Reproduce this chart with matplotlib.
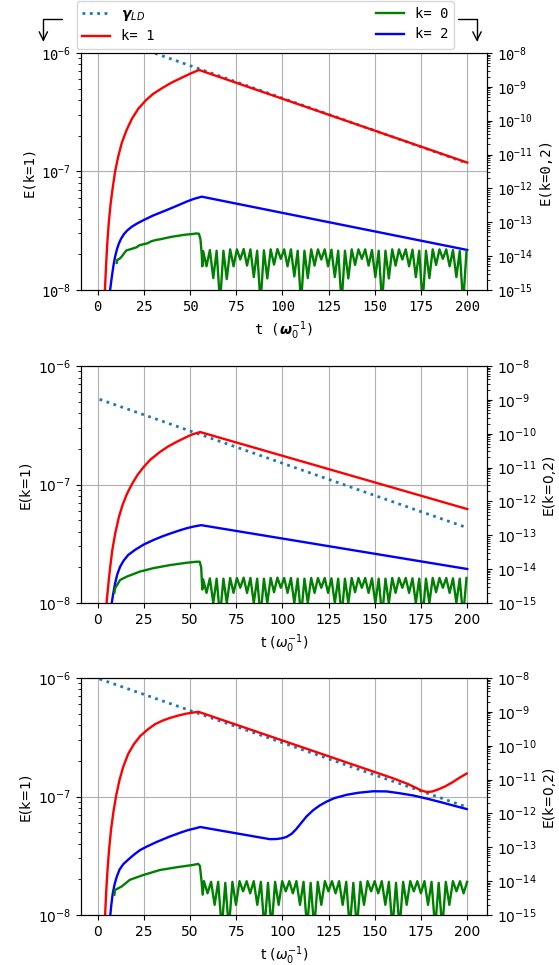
import numpy as np
import matplotlib.pyplot as plt
from matplotlib.ticker import LogLocator

MONO = 'DejaVu Sans Mono'

# ---- panel 1 ------------------------------------------------------------
# values are stored as log10(E)
g1_t = [1.0, 200.0]
g1_v = [-5.838, -6.930]

r1_t = [3.5, 3.9, 4.5, 5.2, 6.0, 7.0, 8.0, 9.4, 11.0, 13.0, 15.5, 18.5, 22.0, 26.0,
        30.0, 35.0, 40.0, 45.0, 50.0, 54.8, 200.0]
r1_v = [-8.30, -8.00, -7.80, -7.60, -7.43, -7.27, -7.15, -7.00, -6.88, -6.76, -6.655,
        -6.555, -6.47, -6.40, -6.345, -6.295, -6.25, -6.212, -6.175, -6.143, -6.925]

b1_t = [6.2, 6.7, 7.3, 7.9, 8.6, 9.4, 10.5, 11.5, 12.7, 14.2, 16.0, 18.5, 21.5,
        24.7, 30.0, 37.3, 43.0, 48.1, 52.0, 56.3, 200.0]
b1_v = [-15.30, -15.00, -14.75, -14.51, -14.25, -14.02, -13.78, -13.62, -13.48,
        -13.35, -13.24, -13.13, -13.03, -12.94, -12.80, -12.64, -12.51, -12.39,
        -12.31, -12.244, -13.818]

gr1_t = [10.3, 10.6, 12.0, 12.9, 14.5, 15.6, 17.5, 19.2, 21.0, 22.5, 24.6, 27.0,
         29.0, 31.8, 34.0, 36.5, 39.0, 41.0, 43.5, 46.2, 48.5, 51.0, 53.4, 54.8,
         55.6, 56.3, 56.6]
gr1_v = [-14.20, -14.11, -14.07, -14.02, -13.90, -13.83, -13.80, -13.77, -13.74,
         -13.68, -13.65, -13.62, -13.56, -13.52, -13.50, -13.47, -13.44, -13.42,
         -13.40, -13.375, -13.36, -13.35, -13.33, -13.34, -13.50, -13.95, -14.30]
osc1 = [-13.85, -14.30, -13.82, -14.65, -13.84, -15.40, -13.84, -14.68, -13.80, -14.30,
        -13.80, -14.10, -13.79, -14.28, -13.80, -14.62, -13.84, -15.40, -13.83, -14.66,
        -13.80, -14.25, -13.79, -14.08, -13.80, -14.30, -13.80, -14.60, -13.84, -15.40,
        -13.84, -14.65, -13.80, -14.28, -13.80, -14.10, -13.80, -14.30, -13.81, -14.62,
        -13.84, -15.40, -13.84, -14.66, -13.80, -14.26, -13.80, -14.08, -13.80, -14.28,
        -13.82, -14.62, -13.84, -15.40, -13.84, -14.66, -13.80, -14.28, -13.80, -14.10,
        -13.80, -14.30, -13.81, -14.62, -13.84, -15.40, -13.84, -14.65, -13.80, -14.26,
        -13.80, -14.08, -13.80, -14.30, -13.82, -14.62, -13.85, -15.40, -13.86]
osc1_span = (57.06, 199.6)

# ---- panel 2 ------------------------------------------------------------
g2_t = [1.0, 200.0]
g2_v = [-6.281, -7.365]

r2_t = [4.4, 4.9, 5.4, 5.8, 6.8, 7.9, 9.5, 11.5, 13.5, 15.8, 18.4, 21.5, 24.7, 28.5,
        33.7, 38.0, 42.7, 47.0, 51.0, 55.4, 200.0]
r2_v = [-8.30, -7.975, -7.90, -7.834, -7.69, -7.553, -7.41, -7.272, -7.17, -7.08,
        -7.00, -6.92, -6.855, -6.79, -6.725, -6.68, -6.64, -6.607, -6.578, -6.557,
        -7.207]

b2_t = [7.0, 7.6, 8.3, 9.4, 10.6, 12.1, 14.0, 16.5, 20.2, 25.0, 30.1, 35.0, 39.1,
        44.0, 48.2, 52.0, 56.0, 200.0]
b2_v = [-15.30, -15.00, -14.75, -14.42, -14.15, -13.93, -13.75, -13.58, -13.43,
        -13.27, -13.14, -13.03, -12.95, -12.86, -12.79, -12.74, -12.70, -13.995]

gr2_t = [9.0, 9.4, 12.1, 15.7, 22.9, 30.1, 39.1, 48.2, 53.6, 55.2, 56.0, 56.6]
gr2_v = [-14.70, -14.565, -14.32, -14.22, -14.07, -13.97, -13.88, -13.81, -13.78,
         -13.78, -13.95, -14.60]
osc2 = [-14.30, -14.70, -14.27, -15.00, -14.28, -15.40, -14.28, -15.00, -14.26, -14.70,
        -14.26, -14.55, -14.25, -14.70, -14.26, -15.00, -14.28, -15.40, -14.28, -15.00,
        -14.26, -14.68, -14.25, -14.55, -14.26, -14.70, -14.26, -15.00, -14.28, -15.40,
        -14.28, -15.00, -14.26, -14.70, -14.26, -14.55, -14.26, -14.70, -14.27, -15.00,
        -14.28, -15.40, -14.28, -15.00, -14.26, -14.68, -14.26, -14.55, -14.26, -14.70,
        -14.27, -15.00, -14.28, -15.40, -14.28, -15.00, -14.26, -14.70, -14.26, -14.55,
        -14.26, -14.70, -14.27, -15.00, -14.28, -15.40, -14.28, -15.00, -14.26, -14.68,
        -14.26, -14.55, -14.26, -14.70, -14.27, -15.00, -14.28, -15.40, -14.26]
osc2_span = (57.06, 199.6)

# ---- panel 3 ------------------------------------------------------------
g3_t = [1.0, 200.0]
g3_v = [-6.008, -7.090]

r3_t = [3.5, 4.0, 4.6, 5.3, 6.2, 7.2, 8.5, 10.0, 11.8, 13.8, 16.5, 19.5, 23.0, 27.0,
        31.0, 35.0, 39.1, 44.0, 48.2, 54.5, 160.0, 168.0, 172.0, 175.0, 178.0,
        181.0, 184.0, 188.0, 192.0, 196.0, 199.7]
r3_v = [-8.30, -8.00, -7.80, -7.62, -7.44, -7.28, -7.13, -6.99, -6.86, -6.75, -6.64,
        -6.56, -6.49, -6.435, -6.39, -6.36, -6.337, -6.315, -6.30, -6.285, -6.847,
        -6.895, -6.925, -6.948, -6.962, -6.958, -6.942, -6.915, -6.88, -6.84,
        -6.806]

b3_t = [6.2, 6.8, 7.4, 8.1, 9.1, 10.3, 11.8, 13.8, 16.6, 20.0, 23.0, 26.5, 32.0,
        39.1, 44.6, 49.0, 53.6, 55.4, 90.0, 93.3, 97.0, 100.0, 102.3, 105.0, 107.5,
        110.0, 113.0, 116.7, 120.0, 123.9, 128.0, 134.7, 141.0, 149.1, 156.4, 163.0,
        170.8, 178.0, 185.2, 192.0, 199.7]
b3_v = [-15.30, -15.00, -14.68, -14.38, -14.10, -13.87, -13.66, -13.50, -13.36,
        -13.20, -13.08, -12.98, -12.84, -12.68, -12.57, -12.49, -12.43, -12.40,
        -12.73, -12.76, -12.755, -12.73, -12.69, -12.60, -12.46, -12.29, -12.09,
        -11.90, -11.77, -11.65, -11.55, -11.45, -11.39, -11.345, -11.35, -11.40,
        -11.47, -11.56, -11.66, -11.76, -11.87]

gr3_t = [9.0, 9.4, 12.9, 17.4, 24.6, 33.7, 42.7, 51.7, 54.4, 55.3, 56.2, 56.8]
gr3_v = [-14.40, -14.26, -14.16, -13.96, -13.82, -13.67, -13.59, -13.52, -13.49,
         -13.55, -14.00, -14.40]
osc3 = [-14.00, -14.36, -14.02, -14.70, -14.02, -15.40, -14.05, -15.40, -14.02, -14.70,
        -14.00, -14.30, -14.00, -14.36, -14.00, -14.70, -14.02, -15.40, -14.05, -15.40,
        -14.02, -14.70, -14.00, -14.30, -14.00, -14.36, -14.00, -14.70, -14.02, -15.40,
        -14.05, -15.40, -14.02, -14.70, -14.00, -14.30, -14.00, -14.36, -14.00, -14.70,
        -14.02, -15.40, -14.05, -15.40, -14.02, -14.70, -14.00, -14.30, -14.00, -14.36,
        -14.00, -14.70, -14.02, -15.40, -14.05, -15.40, -14.02, -14.70, -14.00, -14.30,
        -14.00, -14.36, -14.00, -14.70, -14.02, -15.40, -14.05, -15.40, -14.02, -14.70,
        -14.00, -14.30, -14.00, -14.36, -14.02]
osc3_span = (57.5, 199.95)

panels = [
    dict(g=(g1_t, g1_v), r=(r1_t, r1_v), b=(b1_t, b1_v), gr=(gr1_t, gr1_v),
         osc=osc1, span=osc1_span, mono=True),
    dict(g=(g2_t, g2_v), r=(r2_t, r2_v), b=(b2_t, b2_v), gr=(gr2_t, gr2_v),
         osc=osc2, span=osc2_span, mono=False),
    dict(g=(g3_t, g3_v), r=(r3_t, r3_v), b=(b3_t, b3_v), gr=(gr3_t, gr3_v),
         osc=osc3, span=osc3_span, mono=False),
]

fig = plt.figure(figsize=(5.59, 9.65), dpi=100)
bottoms = [0.6995, 0.3751, 0.0518]
LW = 1.7


def exp10(v):
    return 10.0 ** np.asarray(v)


handles = None
for p, bot in zip(panels, bottoms):
    ax = fig.add_axes([0.1449, bot, 0.7263, 0.2456])
    ax2 = ax.twinx()

    hg, = ax.plot(p['g'][0], exp10(p['g'][1]), ':', color='#1f77b4', lw=2)
    hr, = ax.plot(p['r'][0], exp10(p['r'][1]), '-', color='red', lw=LW)

    ot = np.linspace(p['span'][0], p['span'][1], len(p['osc']))
    gt = np.concatenate([p['gr'][0], ot])
    gv = np.concatenate([p['gr'][1], p['osc']])
    hb, = ax2.plot(p['b'][0], exp10(p['b'][1]), '-', color='blue', lw=LW)
    hk0, = ax2.plot(gt, exp10(gv), '-', color='green', lw=LW)

    ax.set_yscale('log')
    ax2.set_yscale('log')
    ax.set_ylim(1e-8, 1e-6)
    ax2.set_ylim(1e-15, 1e-8)
    ax.set_xlim(-9.05, 210.7)
    ax.set_xticks(np.arange(0, 201, 25))
    ax2.yaxis.set_major_locator(LogLocator(base=10, numticks=20))
    ax2.yaxis.set_minor_locator(LogLocator(base=10, subs=np.arange(2, 10), numticks=20))
    ax.grid(True, color='#b0b0b0', lw=0.8)

    if p['mono']:
        fam = MONO
        xl = r't ($\boldsymbol{\omega}_0^{-1}$)'
        handles = [hg, hr, hk0, hb]
    else:
        fam = 'DejaVu Sans'
        xl = r't ($\omega_0^{-1}$)'
    for a in (ax, ax2):
        a.tick_params(labelsize=10, labelfontfamily=fam)
    ax.set_xlabel(xl, fontsize=10, family=fam)
    ax.set_ylabel('E(k=1)', fontsize=10, family=fam)
    ax2.set_ylabel('E(k=0,2)', fontsize=10, family=fam)

labels = [r'$\boldsymbol{\gamma}_{LD}$', 'k= 1', 'k= 0', 'k= 2']
fig.legend(handles, labels, ncol=2, mode='expand', loc='lower left',
           bbox_to_anchor=(0.137, 0.9492, 0.675, 0.0498), borderaxespad=0,
           prop={'family': MONO, 'size': 10})

# arrows pointing at the left and right axes
arrow = dict(arrowstyle='->', lw=1, color='black', shrinkA=0, shrinkB=0,
             mutation_scale=15)
fig.get_axes()[0].annotate('', xy=(0.0775, 0.9568), xytext=(0.1104, 0.980),
                           xycoords='figure fraction', textcoords='figure fraction',
                           arrowprops=dict(connectionstyle='angle,angleA=0,angleB=90,rad=0', **arrow))
fig.get_axes()[0].annotate('', xy=(0.8533, 0.9568), xytext=(0.8195, 0.980),
                           xycoords='figure fraction', textcoords='figure fraction',
                           arrowprops=dict(connectionstyle='angle,angleA=0,angleB=90,rad=0', **arrow))

fig.savefig('out.png', dpi=100)
